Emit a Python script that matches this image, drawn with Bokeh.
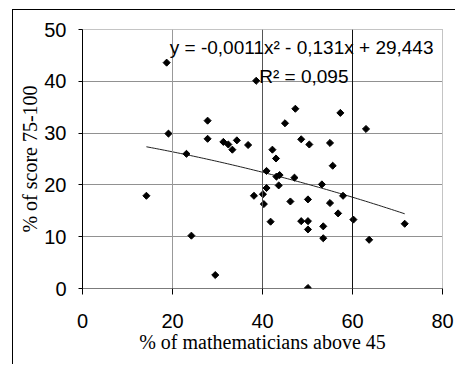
import numpy as np
from bokeh.plotting import figure
from bokeh.models import Label, Range1d, FixedTicker, Span
from bokeh.embed import file_html
from bokeh.resources import INLINE

# ---- data ----
pct_math_above_45 = [18.7, 38.6, 27.8, 45.0, 19.1, 27.8, 31.3, 32.4, 34.3, 33.3,
                     36.8, 23.1, 42.2, 43.0, 40.9, 43.1, 43.8, 43.6, 40.9, 40.1,
                     38.1, 40.3, 46.2, 41.8, 14.2, 24.2, 29.5, 47.3, 57.3, 63.0,
                     48.6, 50.4, 55.0, 55.6, 47.1, 53.2, 57.9, 50.1, 55.0, 56.8,
                     48.6, 50.1, 50.1, 53.5, 53.5, 60.2, 63.7, 71.6, 50.1]
pct_score_75_100 = [43.6, 40.1, 32.4, 31.9, 29.9, 28.9, 28.3, 27.8, 28.6, 26.8,
                    27.7, 26.0, 26.8, 25.1, 22.7, 21.6, 21.9, 19.9, 19.4, 18.2,
                    17.9, 16.3, 16.8, 12.9, 17.9, 10.2, 2.6, 34.7, 33.9, 30.8,
                    28.8, 27.8, 28.1, 23.7, 21.4, 20.1, 17.9, 17.2, 16.5, 14.5,
                    13.0, 13.0, 11.4, 12.0, 9.7, 13.3, 9.4, 12.5, 0.1]
trend_coef = [-0.0011, -0.131, 29.443]   # quadratic trend shown on the chart
x_ticks = [0, 20, 40, 60, 80]
y_ticks = [0, 10, 20, 30, 40, 50]
equation_text = "y = -0,0011x\u00b2 - 0,131x + 29,443"
r2_text = "R\u00b2 = 0,095"
x_title = "% of mathematicians above 45"
y_title = "% of score 75-100"

W, H = 443, 355
p = figure(width=W, height=H, output_backend="svg", toolbar_location=None,
           x_range=Range1d(0, 80), y_range=Range1d(0, 50),
           min_border_left=69, min_border_right=14, min_border_top=19,
           min_border_bottom=77)
p.styles = {"margin-left": "12px", "margin-top": "9px",
            "border-left": "1px solid black", "border-top": "1px solid black"}
p.background_fill_color = "white"
p.border_fill_color = "white"
p.outline_line_color = "#888888"
p.outline_line_dash = "1 1"
p.outline_line_width = 1

# grids
p.xgrid.grid_line_color = None
grid_colors = ["#999999", "#555555", "#111111"]
for t, c in zip(x_ticks[1:-1], grid_colors):
    p.add_layout(Span(location=t, dimension="height", line_color=c, line_width=1))
p.ygrid.grid_line_color = "#222222"
p.ygrid.grid_line_dash = "1 1"
p.ygrid.grid_line_width = 1

tick_font = "Liberation Sans"
for ax in (p.xaxis, p.yaxis):
    ax.major_label_text_font = tick_font
    ax.major_label_text_font_size = "20px"
    ax.major_label_text_color = "black"
    ax.minor_tick_line_color = None
    ax.major_tick_in = 0
    ax.major_tick_line_color = "black"
    ax.axis_label_text_font = "Liberation Serif"
    ax.axis_label_text_font_size = "20px"
    ax.axis_label_text_font_style = "normal"
    ax.axis_label_text_color = "black"

p.xaxis.ticker = FixedTicker(ticks=x_ticks)
p.yaxis.ticker = FixedTicker(ticks=y_ticks)
p.xaxis.major_tick_out = 6
p.yaxis.major_tick_out = 4
p.xaxis.major_label_standoff = 19
p.yaxis.major_label_standoff = 12
p.xaxis.axis_line_color = "#333333"
p.xaxis.axis_line_dash = "1 1"
p.yaxis.axis_line_color = "black"
p.xaxis.axis_label = x_title
p.yaxis.axis_label = y_title
p.xaxis.axis_label_standoff = 0
p.yaxis.axis_label_standoff = 0

# trend line from the displayed equation
tx = np.linspace(min(pct_math_above_45), max(pct_math_above_45), 100)
ty = trend_coef[0] * tx ** 2 + trend_coef[1] * tx + trend_coef[2]
p.line(tx, ty, line_color="#222222", line_width=1)

# points
p.scatter(pct_math_above_45, pct_score_75_100, marker="square", angle=np.pi / 4,
          size=5, fill_color="black", line_color="black")

# equation labels (placed in data coordinates)
p.add_layout(Label(x=78.0, y=46.5, text=equation_text, text_align="right",
                   text_baseline="alphabetic", text_font=tick_font,
                   text_font_size="19px", text_color="black"))
p.add_layout(Label(x=59.1, y=40.9, text=r2_text, text_align="right",
                   text_baseline="alphabetic", text_font=tick_font,
                   text_font_size="19px", text_color="black"))

open("out.html", "w").write(file_html(p, INLINE))
